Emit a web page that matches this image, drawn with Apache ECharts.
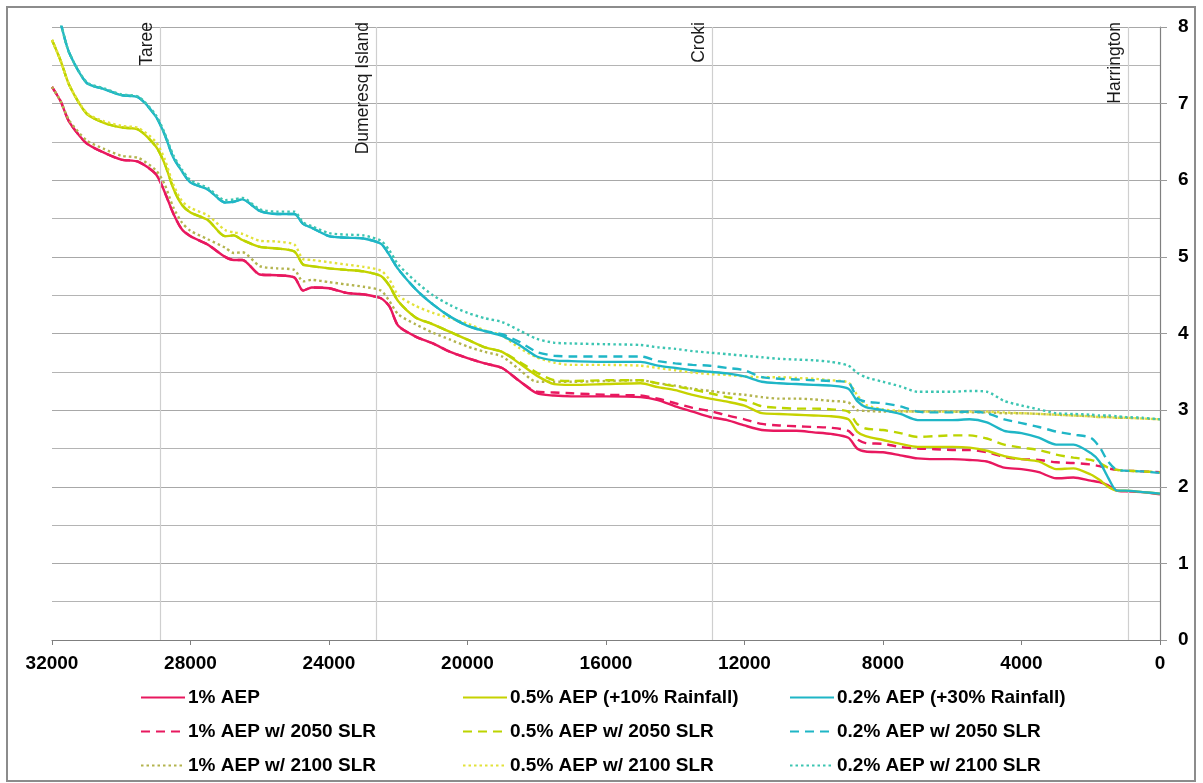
<!DOCTYPE html>
<html>
<head>
<meta charset="utf-8">
<script src="https://cdn.jsdelivr.net/npm/echarts@6/dist/echarts.min.js"></script>
<style>
html,body{margin:0;padding:0;background:#fff;}
#c{width:1203px;height:783px;}
</style>
</head>
<body>
<div id="c"></div>
<script>
// Chainage (m) sample points
const chainage = [32000,31750,31500,31000,30500,30000,29500,29000,28750,28500,28250,28000,27500,27000,26750,26500,26000,25500,25000,24750,24500,24000,23500,23000,22500,22250,22000,21500,21000,20500,20000,19500,19000,18500,18000,17500,17000,16000,15000,14500,14000,13500,13000,12500,12000,11500,11000,10500,10000,9500,9000,8750,8500,8000,7500,7000,6500,6000,5500,5000,4500,4000,3500,3000,2500,2000,1750,1500,1250,1000,500,0];

const aep1 = [7.22,7.03,6.76,6.48,6.36,6.27,6.24,6.08,5.85,5.57,5.36,5.27,5.16,5.00,4.96,4.96,4.77,4.76,4.73,4.56,4.60,4.59,4.53,4.51,4.46,4.35,4.10,3.96,3.87,3.76,3.68,3.61,3.55,3.38,3.22,3.19,3.18,3.18,3.17,3.13,3.05,2.98,2.91,2.87,2.80,2.74,2.73,2.73,2.71,2.69,2.64,2.50,2.46,2.45,2.41,2.37,2.36,2.36,2.35,2.33,2.25,2.23,2.19,2.11,2.12,2.08,2.06,2.02,1.95,1.94,1.93,1.90];
const aep1_2050 = [7.22,7.03,6.76,6.48,6.36,6.27,6.24,6.08,5.85,5.57,5.36,5.27,5.16,5.00,4.96,4.96,4.77,4.76,4.73,4.56,4.60,4.59,4.53,4.51,4.46,4.35,4.10,3.96,3.87,3.76,3.68,3.61,3.55,3.38,3.24,3.23,3.22,3.20,3.19,3.15,3.09,3.03,2.99,2.93,2.88,2.82,2.80,2.79,2.78,2.77,2.73,2.62,2.57,2.56,2.52,2.50,2.49,2.48,2.48,2.45,2.39,2.36,2.35,2.32,2.31,2.29,2.27,2.24,2.22,2.21,2.20,2.19];
const aep1_2100 = [7.22,7.03,6.78,6.52,6.41,6.32,6.29,6.13,5.95,5.65,5.45,5.34,5.23,5.12,5.05,5.06,4.88,4.85,4.83,4.68,4.70,4.67,4.64,4.61,4.56,4.42,4.25,4.12,4.01,3.92,3.83,3.76,3.70,3.53,3.37,3.37,3.37,3.38,3.39,3.35,3.32,3.28,3.25,3.22,3.20,3.17,3.15,3.15,3.14,3.12,3.10,3.00,2.99,2.98,2.98,2.98,2.98,2.98,2.97,2.97,2.96,2.96,2.95,2.94,2.93,2.92,2.91,2.91,2.90,2.90,2.89,2.88];

const aep05 = [7.83,7.56,7.24,6.87,6.75,6.69,6.66,6.44,6.22,5.90,5.68,5.58,5.48,5.27,5.28,5.22,5.13,5.11,5.07,4.90,4.88,4.85,4.83,4.81,4.75,4.62,4.42,4.21,4.12,4.02,3.92,3.82,3.76,3.61,3.45,3.34,3.33,3.34,3.35,3.30,3.26,3.20,3.15,3.11,3.06,2.96,2.95,2.94,2.93,2.92,2.88,2.72,2.66,2.61,2.56,2.52,2.52,2.52,2.51,2.47,2.40,2.36,2.33,2.23,2.24,2.16,2.09,2.00,1.95,1.95,1.93,1.91];
const aep05_2050 = [7.83,7.56,7.24,6.87,6.75,6.69,6.66,6.44,6.22,5.90,5.68,5.58,5.48,5.27,5.28,5.22,5.13,5.11,5.07,4.90,4.88,4.85,4.83,4.81,4.75,4.62,4.42,4.21,4.12,4.02,3.92,3.82,3.76,3.63,3.49,3.39,3.38,3.39,3.39,3.35,3.31,3.27,3.22,3.17,3.13,3.05,3.03,3.02,3.02,3.01,2.98,2.82,2.76,2.74,2.70,2.65,2.66,2.67,2.67,2.63,2.55,2.51,2.48,2.42,2.38,2.35,2.31,2.25,2.22,2.21,2.20,2.19];
const aep05_2100 = [7.83,7.56,7.24,6.88,6.77,6.71,6.68,6.50,6.28,5.95,5.73,5.64,5.54,5.35,5.32,5.30,5.21,5.20,5.16,4.97,4.96,4.93,4.90,4.87,4.82,4.70,4.50,4.36,4.27,4.20,4.13,4.04,3.97,3.81,3.69,3.62,3.59,3.59,3.58,3.55,3.52,3.49,3.47,3.46,3.44,3.43,3.43,3.42,3.41,3.39,3.36,3.20,3.07,3.01,2.99,2.98,2.98,2.98,2.98,2.98,2.97,2.96,2.95,2.94,2.93,2.92,2.91,2.91,2.90,2.90,2.89,2.88];

const aep02 = [8.45,8.05,7.66,7.27,7.19,7.11,7.08,6.83,6.60,6.30,6.12,5.97,5.88,5.71,5.72,5.75,5.60,5.56,5.56,5.43,5.38,5.27,5.25,5.24,5.17,5.02,4.84,4.58,4.38,4.22,4.10,4.03,3.97,3.85,3.70,3.65,3.64,3.63,3.63,3.58,3.55,3.52,3.50,3.48,3.44,3.37,3.35,3.34,3.33,3.32,3.28,3.12,3.04,3.00,2.95,2.87,2.87,2.87,2.88,2.84,2.73,2.70,2.64,2.55,2.55,2.44,2.33,2.12,1.95,1.95,1.93,1.91];
const aep02_2050 = [8.45,8.05,7.66,7.27,7.19,7.11,7.08,6.83,6.60,6.30,6.12,5.97,5.88,5.71,5.72,5.75,5.60,5.56,5.56,5.43,5.38,5.27,5.25,5.24,5.17,5.02,4.84,4.58,4.38,4.22,4.10,4.03,3.99,3.89,3.76,3.71,3.70,3.70,3.70,3.64,3.61,3.59,3.58,3.55,3.52,3.43,3.41,3.40,3.39,3.38,3.36,3.16,3.11,3.09,3.05,2.98,2.97,2.97,2.98,2.96,2.88,2.83,2.78,2.72,2.68,2.64,2.52,2.33,2.22,2.21,2.20,2.18];
const aep02_2100 = [8.45,8.05,7.66,7.28,7.20,7.12,7.09,6.85,6.62,6.33,6.14,6.00,5.90,5.74,5.75,5.77,5.62,5.59,5.59,5.45,5.40,5.31,5.29,5.28,5.21,5.08,4.90,4.68,4.50,4.37,4.27,4.20,4.15,4.04,3.93,3.88,3.87,3.86,3.85,3.82,3.80,3.77,3.75,3.73,3.71,3.69,3.67,3.66,3.65,3.63,3.58,3.49,3.43,3.37,3.31,3.24,3.24,3.24,3.25,3.24,3.12,3.06,3.01,2.96,2.95,2.94,2.93,2.93,2.92,2.91,2.90,2.88];

const seriesNames = ['1% AEP','1% AEP w/ 2050 SLR','1% AEP w/ 2100 SLR',
  '0.5% AEP (+10% Rainfall)','0.5% AEP w/ 2050 SLR','0.5% AEP w/ 2100 SLR',
  '0.2% AEP (+30% Rainfall)','0.2% AEP w/ 2050 SLR','0.2% AEP w/ 2100 SLR'];

const locationNames = ['Taree','Dumeresq Island','Croki','Harrington'];
const locationChainage = [28880, 22640, 12940, 924];

const FONT = '"Liberation Sans",Arial,sans-serif';
const DASH = [9,6];
const DOT = [2.5,3];

const styles = [
  {color:'#e8185f', type:'solid'},
  {color:'#e8185f', type:DASH},
  {color:'#b3b44e', type:DOT},
  {color:'#c6d200', type:'solid'},
  {color:'#bcd400', type:DASH},
  {color:'#e2e23a', type:DOT},
  {color:'#1fb6c6', type:'solid'},
  {color:'#1fb6c6', type:DASH},
  {color:'#3cc5b2', type:DOT}
];
const values = [aep1,aep1_2050,aep1_2100,aep05,aep05_2050,aep05_2100,aep02,aep02_2050,aep02_2100];

const series = values.map((vals,k)=>({
  name: seriesNames[k],
  type:'line',
  data: chainage.map((x,i)=>[x, vals[i]]),
  symbol:'none',
  smooth:0.25,
  clip:true,
  color: styles[k].color,
  lineStyle:{color:styles[k].color, width:2.4, type:styles[k].type},
  z: 3 + k
}));

series[0].markLine = {
  silent:true,
  symbol:['none','none'],
  animation:false,
  lineStyle:{color:'#cfcfcf', width:1.2, type:'solid'},
  label:{
    show:true,
    position:'insideEndTop',
    formatter: p => p.name,
    color:'#1a1a1a',
    fontFamily:FONT,
    fontSize:17.5,
    distance:[-5,4]
  },
  data: locationNames.map((n,i)=>({name:n, xAxis: locationChainage[i]}))
};

const legendBase = {
  orient:'vertical',
  top:688,
  padding:0,
  itemWidth:44,
  itemHeight:14,
  itemGap:15,
  itemStyle:{opacity:0},
  textStyle:{fontFamily:FONT, fontWeight:'bold', fontSize:19, color:'#000', padding:[0,0,0,-2]}
};

const chart = echarts.init(document.getElementById('c'), null, {renderer:'canvas'});
chart.setOption({
  animation:false,
  backgroundColor:'#fff',
  grid:{left:52, right:43, top:27, bottom:143, containLabel:false},
  xAxis:{
    type:'value', inverse:true, min:0, max:32000, interval:4000,
    axisLine:{show:true, onZero:false, lineStyle:{color:'#7f7f7f', width:1.2}},
    axisTick:{show:true, length:5, lineStyle:{color:'#7f7f7f'}},
    axisLabel:{fontFamily:FONT, fontWeight:'bold', fontSize:19, color:'#000', margin:14,
      formatter: v => String(v)},
    splitLine:{show:false}
  },
  yAxis:{
    type:'value', position:'right', min:0, max:8, interval:1,
    axisLine:{show:true, lineStyle:{color:'#7f7f7f', width:1.2}},
    axisTick:{show:true, inside:false, length:7, lineStyle:{color:'#9a9a9a'}},
    axisLabel:{fontFamily:FONT, fontWeight:'bold', fontSize:19, color:'#000', margin:18},
    splitLine:{show:true, lineStyle:{color:'#a8a8a8', width:1}},
    minorTick:{show:false, splitNumber:2},
    minorSplitLine:{show:true, lineStyle:{color:'#b4b4b4', width:1}}
  },
  legend:[
    Object.assign({}, legendBase, {left:140, data:seriesNames.slice(0,3)}),
    Object.assign({}, legendBase, {left:462, data:seriesNames.slice(3,6)}),
    Object.assign({}, legendBase, {left:789, data:seriesNames.slice(6,9)})
  ],
  graphic:[{
    type:'rect', silent:true, z:100,
    shape:{x:7, y:7, width:1188, height:774},
    style:{fill:null, stroke:'#8c8c8c', lineWidth:2}
  }],
  series: series
});
</script>
</body>
</html>
